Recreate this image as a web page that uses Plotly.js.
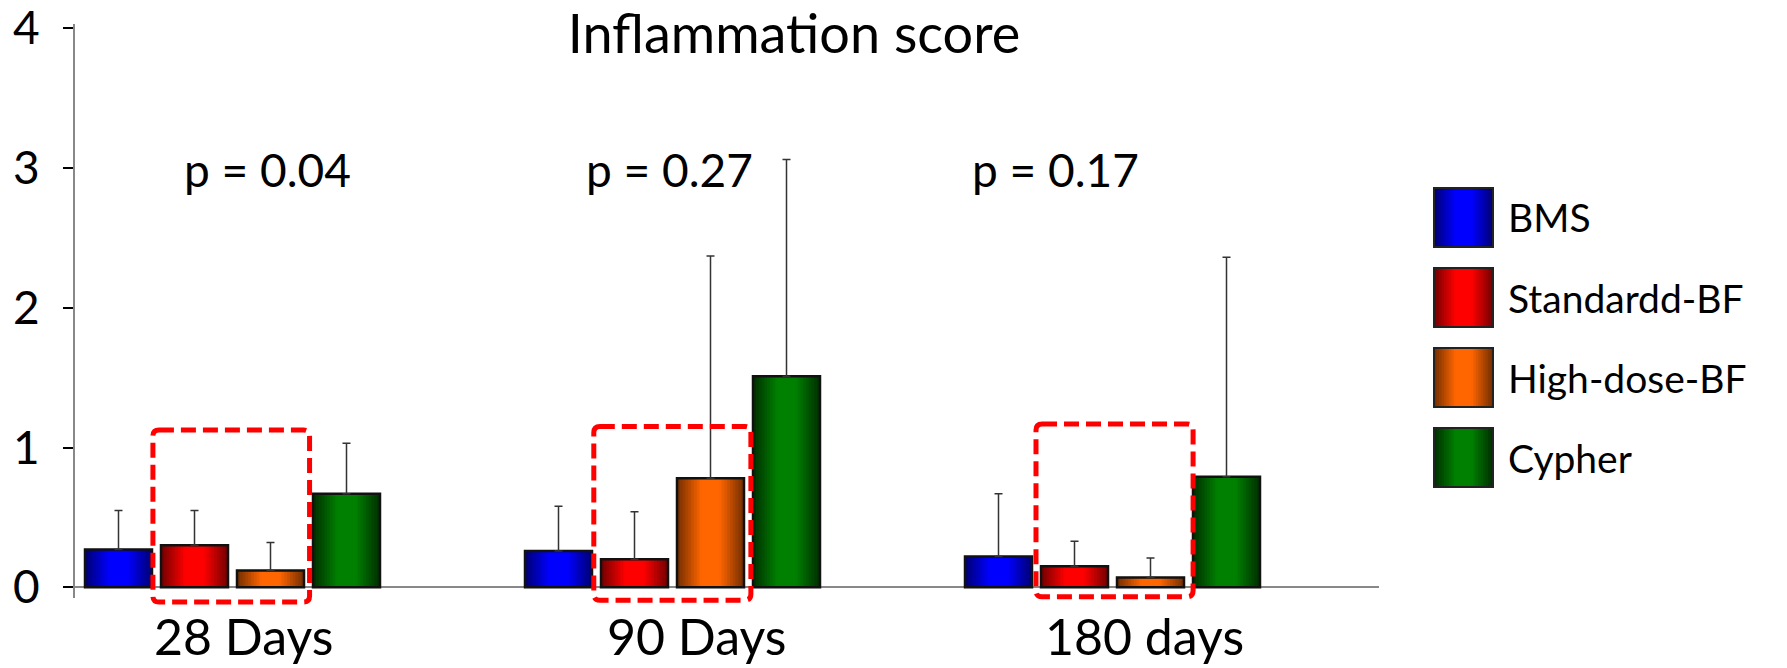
<!DOCTYPE html>
<html><head><meta charset="utf-8">
<script src="https://cdn.plot.ly/plotly-3.0.1.min.js"></script>
<style>html,body{margin:0;padding:0;background:#fff}</style>
</head><body>
<div id="chart" style="width:1787px;height:668px"></div>
<script>
// ---- data ----
const categories = ['28 Days', '90 Days', '180 days'];
const seriesNames = ['BMS', 'Standardd-BF', 'High-dose-BF', 'Cypher'];
const bmsMean = [0.27, 0.26, 0.22];
const bmsSD   = [0.28, 0.32, 0.45];
const stdMean = [0.30, 0.20, 0.15];
const stdSD   = [0.25, 0.34, 0.18];
const hdMean  = [0.12, 0.78, 0.07];
const hdSD    = [0.20, 1.59, 0.14];
const cyMean  = [0.67, 1.51, 0.79];
const cySD    = [0.36, 1.55, 1.57];
const pValues = ['p = 0.04', 'p = 0.27', 'p = 0.17'];
const yTickVals = [0, 1, 2, 3, 4];
const chartTitle = 'Inflammation score';

// ---- styling ----
const FONT = 'Lato, "Open Sans", sans-serif';
const means = [bmsMean, stdMean, hdMean, cyMean];
const sds = [bmsSD, stdSD, hdSD, cySD];
const palette = [
  ['#00007a', '#0000ff'],
  ['#7a0000', '#ff0000'],
  ['#7a3000', '#ff6600'],
  ['#003200', '#008000']
];
function hex2rgb(h){return [1,3,5].map(i=>parseInt(h.substr(i,2),16));}
function mix(a,b,t){const A=hex2rgb(a),B=hex2rgb(b);return 'rgb('+A.map((v,i)=>Math.round(v+(B[i]-v)*t)).join(',')+')';}

// pixel geometry of plot area
const L = 75, R = 1379, T = 24, B = 598, W = 1787, H = 668;
const PXU = 440;                 // pixels per category
const xr0 = -(233 - L) / PXU;
const xr1 = xr0 + (R - L) / PXU;
const barOffPx = [-148, -72, 4, 80];
const barWPx = 67;
const N = 12;

const traces = [];
for (let s = 0; s < 4; s++) {
  const off = barOffPx[s] / PXU, bw = barWPx / PXU;
  for (let k = 0; k < N; k++) {
    const wk = bw * (1 - k / N);
    const t = Math.min(1, (k / (N - 1)) / 0.75);
    traces.push({
      type: 'bar', x: categories, y: means[s],
      width: wk, offset: off + (bw - wk) / 2,
      marker: {color: mix(palette[s][0], palette[s][1], t), line: {width: 0}},
      hoverinfo: 'skip', showlegend: false
    });
  }
  traces.push({
    type: 'bar', name: seriesNames[s], x: categories, y: means[s],
    width: bw, offset: off,
    marker: {color: 'rgba(0,0,0,0)', line: {color: '#111', width: 2.5}},
    error_y: {type: 'data', symmetric: false, array: sds[s], arrayminus: sds[s].map(() => 0),
              color: '#333', thickness: 1.5, width: 4},
    showlegend: false
  });
}

const px2xp = px => (px - L) / (R - L);
const px2yp = py => (B - py) / (B - T);
const u2xp = u => (u - xr0) / (xr1 - xr0);

const shapes = [];
// dashed highlight boxes (around the two BF series in each group)
const boxX = [[-0.182, 0.174], [-0.18, 0.177], [-0.175, 0.182]];
const boxY = [[1.125, -0.105], [1.15, -0.092], [1.168, -0.068]];
boxX.forEach((bx, i) => {
  const x0 = u2xp(i + bx[0]), x1 = u2xp(i + bx[1]);
  const y1 = px2yp(587.3 - boxY[i][0] * 139.8), y0 = px2yp(587.3 - boxY[i][1] * 139.8);
  const rx = 6 / (R - L), ry = 6 / (B - T);
  const path = `M${x0+rx},${y1} H${x1-rx} Q${x1},${y1} ${x1},${y1-ry} V${y0+ry} Q${x1},${y0} ${x1-rx},${y0} H${x0+rx} Q${x0},${y0} ${x0},${y0+ry} V${y1-ry} Q${x0},${y1} ${x0+rx},${y1} Z`;
  shapes.push({type: 'path', xref: 'paper', yref: 'paper', path: path,
    line: {color: '#ff0000', width: 5, dash: '15px,7px'}, layer: 'above'});
});

// legend (custom, large swatches)
const annotations = [];
const legCy = [217.5, 297.5, 377.5, 457.5];
const sqL = 1434, sqR = 1493, half = 29.5;
for (let s = 0; s < 4; s++) {
  const cy = legCy[s];
  for (let k = 0; k < N; k++) {
    const inset = (sqR - sqL) / 2 * (k / N);
    const t = Math.min(1, (k / (N - 1)) / 0.75);
    shapes.push({type: 'rect', xref: 'paper', yref: 'paper',
      x0: px2xp(sqL + inset), x1: px2xp(sqR - inset),
      y0: px2yp(cy + half), y1: px2yp(cy - half),
      fillcolor: mix(palette[s][0], palette[s][1], t), line: {width: 0}, layer: 'above'});
  }
  shapes.push({type: 'rect', xref: 'paper', yref: 'paper',
    x0: px2xp(sqL), x1: px2xp(sqR), y0: px2yp(cy + half), y1: px2yp(cy - half),
    fillcolor: 'rgba(0,0,0,0)', line: {color: '#222', width: 2}, layer: 'above'});
  annotations.push({xref: 'paper', yref: 'paper', x: px2xp(1506), y: px2yp(cy),
    xanchor: 'left', yanchor: 'middle', showarrow: false, text: seriesNames[s],
    font: {family: FONT, size: 39, color: '#000'}});
}

// p-values
const pShift = [34, -4, -58];
pValues.forEach((p, i) => annotations.push({xref: 'x', yref: 'y', x: categories[i], y: 2.99,
  xshift: pShift[i], xanchor: 'center', yanchor: 'middle', showarrow: false, text: p,
  font: {family: FONT, size: 46, color: '#000'}}));

// category labels
const cShift = [10, 23, 31];
categories.forEach((c, i) => annotations.push({xref: 'x', yref: 'paper', x: c, y: px2yp(636),
  xshift: cShift[i], xanchor: 'center', yanchor: 'middle', showarrow: false, text: c,
  font: {family: FONT, size: 50, color: '#000'}}));

const layout = {
  width: W, height: H,
  margin: {l: L, r: W - R, t: T, b: H - B, pad: 0},
  paper_bgcolor: '#fff', plot_bgcolor: '#fff',
  barmode: 'overlay',
  showlegend: false,
  title: {text: chartTitle, x: 794 / W, xanchor: 'center', y: 1 - 34 / H, yanchor: 'middle',
          font: {family: FONT, size: 54, color: '#000'}},
  xaxis: {type: 'category', range: [xr0, xr1], showticklabels: false, ticks: '',
          showline: false, showgrid: false, zeroline: false, fixedrange: true},
  yaxis: {range: [-(B - 587.3) / 139.8, (587.3 - T) / 139.8], tickvals: yTickVals,
          ticks: 'outside', ticklen: 10, tickwidth: 2, tickcolor: '#000',
          ticklabelstandoff: 14, ticklabeloverflow: 'allow',
          tickfont: {family: FONT, size: 46, color: '#000'},
          showline: true, linecolor: '#888', linewidth: 2,
          showgrid: false, zeroline: true, zerolinecolor: '#888', zerolinewidth: 2},
  shapes: shapes,
  annotations: annotations,
  font: {family: FONT}
};

Plotly.newPlot('chart', traces, layout, {displayModeBar: false, staticPlot: true});
</script>
</body></html>
